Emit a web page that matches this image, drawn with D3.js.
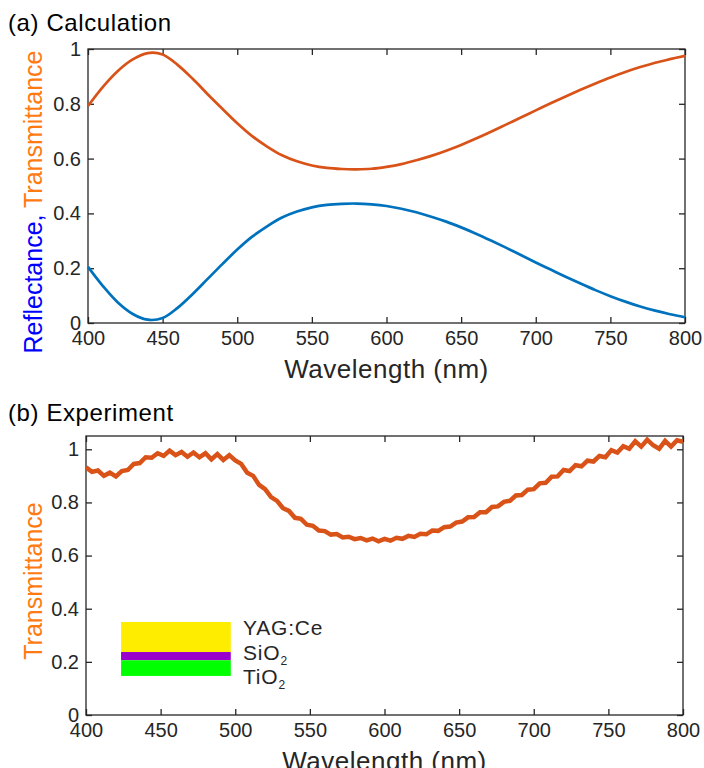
<!DOCTYPE html>
<html>
<head>
<meta charset="utf-8">
<script src="https://cdn.jsdelivr.net/npm/d3@7"></script>
<style>
  body { margin: 0; background: #fff; }
  svg text { font-family: "Liberation Sans", Arial, sans-serif; fill: #262626; }
</style>
</head>
<body>
<div id="chart"></div>
<script>
// Calculated spectra, 10 nm steps from 400 to 800 nm
const calcWavelength = d3.range(400, 801, 10);
const calcReflectance = [
  0.205, 0.135, 0.075, 0.033, 0.012, 0.018, 0.055, 0.105, 0.160, 0.215,
  0.268, 0.315, 0.353, 0.385, 0.407, 0.422, 0.431, 0.435, 0.436, 0.433,
  0.427, 0.417, 0.404, 0.388, 0.370, 0.349, 0.326, 0.301, 0.275, 0.248,
  0.221, 0.195, 0.169, 0.144, 0.120, 0.098, 0.078, 0.060, 0.045, 0.032,
  0.021
];
const calcTransmittance = [
  0.792, 0.862, 0.920, 0.962, 0.985, 0.980, 0.942, 0.892, 0.836, 0.782,
  0.729, 0.682, 0.644, 0.612, 0.590, 0.575, 0.566, 0.562, 0.561, 0.563,
  0.570, 0.580, 0.594, 0.610, 0.629, 0.650, 0.673, 0.698, 0.724, 0.750,
  0.776, 0.802, 0.827, 0.851, 0.874, 0.896, 0.916, 0.934, 0.950, 0.963,
  0.975
];

const expWavelength = d3.range(400, 801, 4);
const expTransmittance = [
  0.932, 0.915, 0.920, 0.900, 0.912, 0.898, 0.918, 0.922, 0.945, 0.948,
  0.970, 0.968, 0.985, 0.975, 0.995, 0.978, 0.990, 0.972, 0.988, 0.970,
  0.985, 0.962, 0.982, 0.960, 0.978, 0.958, 0.945, 0.912, 0.900, 0.866,
  0.850, 0.820, 0.806, 0.778, 0.768, 0.742, 0.738, 0.716, 0.712, 0.694,
  0.692, 0.679, 0.681, 0.668, 0.671, 0.662, 0.666, 0.657, 0.664, 0.654,
  0.663, 0.656, 0.667, 0.663, 0.674, 0.670, 0.682, 0.680, 0.694, 0.693,
  0.707, 0.709, 0.724, 0.728, 0.744, 0.745, 0.763, 0.763, 0.783, 0.785,
  0.802, 0.806, 0.826, 0.828, 0.848, 0.850, 0.872, 0.874, 0.897, 0.898,
  0.922, 0.918, 0.940, 0.936, 0.957, 0.954, 0.975, 0.970, 0.997, 0.988,
  1.012, 1.002, 1.030, 1.010, 1.036, 1.015, 1.002, 1.032, 1.010, 1.034,
  1.028
];

const xTicks = [400, 450, 500, 550, 600, 650, 700, 750, 800];
const yTicks = [0, 0.2, 0.4, 0.6, 0.8, 1];

// Layer stack sketch in panel (b)
const layerNames = ["YAG:Ce", "SiO", "TiO"];
const layerSubs = ["", "2", "2"];
const layerColors = ["#FFED00", "#9900CC", "#00FF00"];
const layerTop = [0.35, 0.237, 0.206];
const layerBottom = [0.237, 0.206, 0.147];
const layerSpan = [423.5, 497];

const width = 704, height = 768;
const orange = "#D95319", blue = "#0072BD";
const labelOrange = "#FF7A12", labelBlue = "#0000FF";
const axisColor = "#262626";

const svg = d3.select("#chart").append("svg")
  .attr("width", width).attr("height", height);
const defs = svg.append("defs");

function drawPanel(box, yMax, title, titleY) {
  const x = d3.scaleLinear().domain([400, 800]).range([box.left, box.right]);
  const y = d3.scaleLinear().domain([0, yMax]).range([box.bottom, box.top]);

  svg.append("text").attr("x", 8).attr("y", titleY)
    .attr("font-size", 24).attr("letter-spacing", 0.6)
    .style("fill", "#000").text(title);

  const g = svg.append("g");
  const tickLen = 6;

  // inward ticks on all four sides
  g.append("g").attr("transform", `translate(0,${box.bottom})`)
    .call(d3.axisBottom(x).tickValues(xTicks).tickSize(-tickLen).tickPadding(8).tickFormat(d3.format("d")))
    .call(a => a.select(".domain").remove());
  g.append("g").attr("transform", `translate(0,${box.top})`)
    .call(d3.axisTop(x).tickValues(xTicks).tickSize(-tickLen).tickFormat(""))
    .call(a => a.select(".domain").remove());
  g.append("g").attr("transform", `translate(${box.left},0)`)
    .call(d3.axisLeft(y).tickValues(yTicks).tickSize(-tickLen).tickPadding(7).tickFormat(d3.format("~g")))
    .call(a => a.select(".domain").remove());
  g.append("g").attr("transform", `translate(${box.right},0)`)
    .call(d3.axisRight(y).tickValues(yTicks).tickSize(-tickLen).tickFormat(""))
    .call(a => a.select(".domain").remove());

  g.selectAll(".tick line").attr("stroke", axisColor).attr("stroke-width", 1.3);
  g.selectAll(".tick text").attr("font-size", 20)
    .attr("font-family", "Liberation Sans, Arial, sans-serif").style("fill", axisColor);

  g.append("rect")
    .attr("x", box.left).attr("y", box.top)
    .attr("width", box.right - box.left).attr("height", box.bottom - box.top)
    .attr("fill", "none").attr("stroke", axisColor).attr("stroke-width", 1.3);

  svg.append("text")
    .attr("x", (box.left + box.right) / 2).attr("y", box.bottom + 55)
    .attr("text-anchor", "middle").attr("font-size", 26)
    .attr("letter-spacing", 0.5)
    .attr("font-family", "Noto Sans CJK JP, sans-serif")
    .style("fill", axisColor)
    .text("Wavelength (nm)");

  return { x, y };
}

// (a) Calculation
const boxA = { left: 88, right: 685, top: 49, bottom: 323 };
const a = drawPanel(boxA, 1, "(a) Calculation", 31);

const lineA = d3.line().curve(d3.curveCatmullRom)
  .x((d, i) => a.x(calcWavelength[i])).y(d => a.y(d));

svg.append("path").datum(calcTransmittance)
  .attr("d", lineA).attr("fill", "none")
  .attr("stroke", orange).attr("stroke-width", 2.7);
svg.append("path").datum(calcReflectance)
  .attr("d", lineA).attr("fill", "none")
  .attr("stroke", blue).attr("stroke-width", 2.7);

const ylabA = svg.append("text")
  .attr("transform", "translate(42,202) rotate(-90)")
  .attr("text-anchor", "middle").attr("font-size", 25);
ylabA.append("tspan").style("fill", labelBlue).text("Reflectance, ");
ylabA.append("tspan").style("fill", labelOrange).text("Transmittance");

// (b) Experiment
const boxB = { left: 86, right: 683, top: 436, bottom: 715 };
const b = drawPanel(boxB, 1.05, "(b) Experiment", 421);

defs.append("clipPath").attr("id", "clipB")
  .append("rect").attr("x", boxB.left).attr("y", boxB.top)
  .attr("width", boxB.right - boxB.left).attr("height", boxB.bottom - boxB.top);

const lineB = d3.line()
  .x((d, i) => b.x(expWavelength[i])).y(d => b.y(d));

svg.append("path").datum(expTransmittance)
  .attr("clip-path", "url(#clipB)")
  .attr("d", lineB).attr("fill", "none")
  .attr("stroke", orange).attr("stroke-width", 4.5);

svg.append("text")
  .attr("transform", "translate(42,581) rotate(-90)")
  .attr("text-anchor", "middle").attr("font-size", 25)
  .style("fill", labelOrange).text("Transmittance");

// layer stack sketch
layerNames.forEach((name, i) => {
  svg.append("rect")
    .attr("x", b.x(layerSpan[0])).attr("y", b.y(layerTop[i]))
    .attr("width", b.x(layerSpan[1]) - b.x(layerSpan[0]))
    .attr("height", b.y(layerBottom[i]) - b.y(layerTop[i]))
    .attr("fill", layerColors[i]);
  const t = svg.append("text")
    .attr("x", 243).attr("y", 635 + i * 24.5)
    .attr("font-size", 21).attr("letter-spacing", 0.8)
    .style("fill", axisColor);
  t.append("tspan").text(name);
  if (layerSubs[i]) {
    t.append("tspan").attr("font-size", 12).attr("dy", 5).text(layerSubs[i]);
  }
});
</script>
</body>
</html>
